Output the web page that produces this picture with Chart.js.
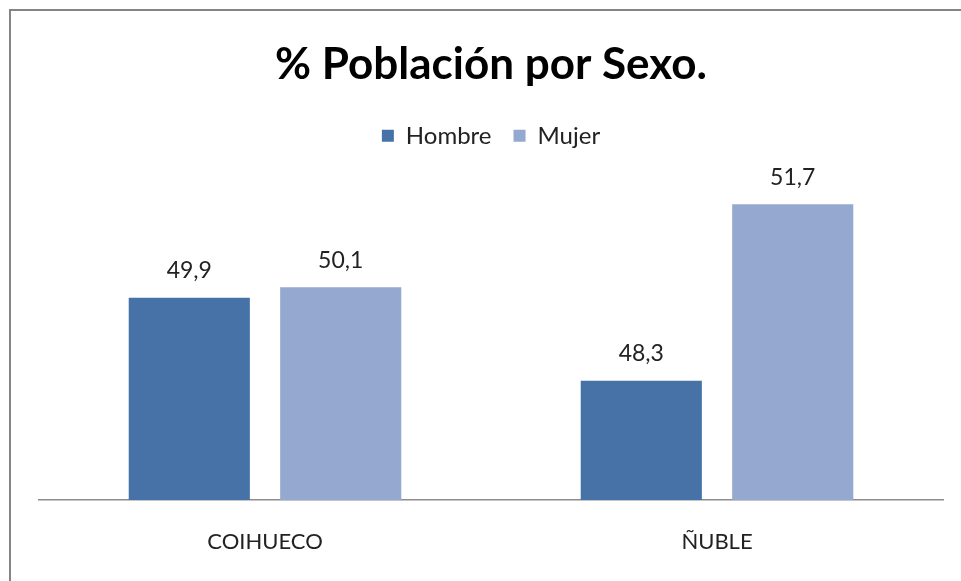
<!DOCTYPE html>
<html>
<head>
<meta charset="utf-8">
<script src="https://cdn.jsdelivr.net/npm/chart.js@4"></script>
<style>
  html, body { margin: 0; padding: 0; background: #ffffff; overflow: hidden; }
  #frame { position: absolute; left: 9px; top: 9px; width: 1200px; height: 800px; border: 2px solid #858585; box-sizing: border-box; }
  #wrap { position: absolute; left: 0; top: 0; width: 961px; height: 581px; }
</style>
</head>
<body>
<div id="frame"></div>
<div id="wrap"><canvas id="c" width="961" height="581"></canvas></div>
<script>
const categories = ['COIHUECO', 'ÑUBLE'];
const seriesNames = ['Hombre', 'Mujer'];
const hombre = [49.9, 48.3];
const mujer = [50.1, 51.7];
const titleText = '% Población por Sexo.';
const colors = ['#4672a8', '#95a9d0'];
const FONT = 'Lato, "Open Sans", sans-serif';

const valueLabels = {
  id: 'valueLabels',
  afterDatasetsDraw(chart) {
    const ctx = chart.ctx;
    ctx.save();
    ctx.font = '23px ' + FONT;
    ctx.fillStyle = '#222222';
    ctx.textAlign = 'center';
    ctx.textBaseline = 'middle';
    chart.data.datasets.forEach((ds, di) => {
      const meta = chart.getDatasetMeta(di);
      meta.data.forEach((bar, i) => {
        const txt = ds.data[i].toFixed(1).replace('.', ',');
        ctx.fillText(txt, bar.x, bar.y - 27);
      });
    });
    ctx.restore();
  }
};

const legendSpace = {
  id: 'legendSpace',
  beforeInit(chart) {
    const orig = chart.legend.fit;
    chart.legend.fit = function () {
      orig.call(this);
      this.height += 31;
    };
  }
};

new Chart(document.getElementById('c'), {
  type: 'bar',
  data: {
    labels: categories,
    datasets: [
      { label: seriesNames[0], data: hombre, backgroundColor: colors[0], barPercentage: 0.8, categoryPercentage: 0.67 },
      { label: seriesNames[1], data: mujer, backgroundColor: colors[1], barPercentage: 0.8, categoryPercentage: 0.67 }
    ]
  },
  options: {
    responsive: false,
    animation: false,
    layout: { padding: { left: 39, right: 18, top: 20, bottom: 0 } },
    plugins: {
      title: {
        display: true,
        text: titleText,
        color: '#000000',
        font: { family: FONT, size: 44, weight: 'bold' },
        padding: { top: 18, bottom: 11 }
      },
      legend: {
        display: true,
        labels: {
          color: '#222222',
          font: { family: FONT, size: 24 },
          boxWidth: 12,
          boxHeight: 12,
          padding: 22
        }
      },
      tooltip: { enabled: false }
    },
    scales: {
      x: {
        grid: { display: false, drawTicks: false },
        border: { display: true, color: '#8c8c8c', width: 1.5 },
        ticks: { color: '#222222', font: { family: FONT, size: 22 }, padding: 29 },
        afterFit(scale) { scale.height = 81; }
      },
      y: {
        display: false,
        min: 46,
        max: 52
      }
    }
  },
  plugins: [valueLabels, legendSpace]
});
</script>
</body>
</html>
